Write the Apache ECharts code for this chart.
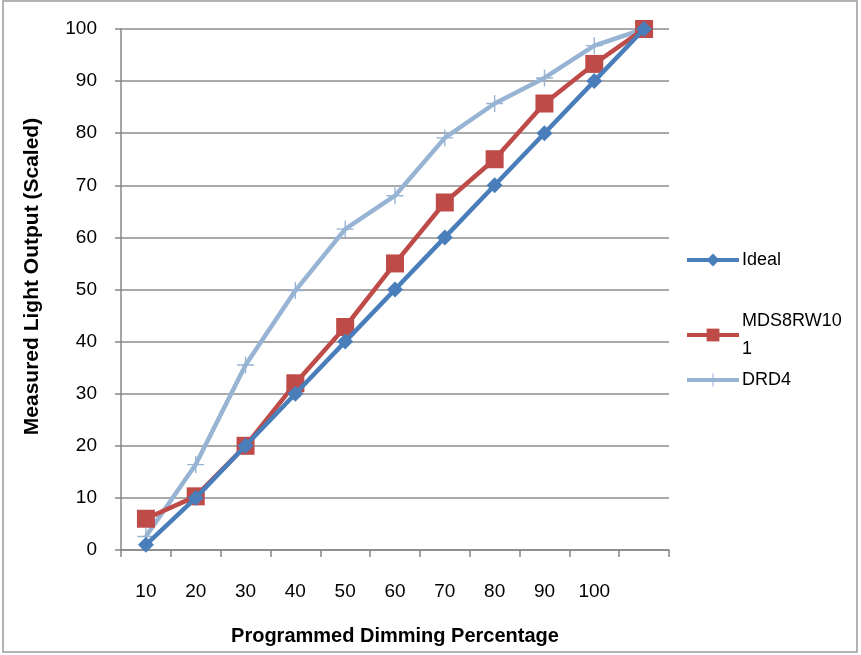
<!DOCTYPE html>
<html><head><meta charset="utf-8">
<script src="https://cdn.jsdelivr.net/npm/echarts@6/dist/echarts.min.js"></script>
<style>html,body{margin:0;padding:0;background:#fff}#c{width:861px;height:655px}</style>
</head><body><div id="c"></div>
<script>
var categories = ['10','20','30','40','50','60','70','80','90','100',''];
var ideal = [1,10,20,30,40,50,60,70,80,90,100];
var mds = [6,10.3,20,32,42.8,55,66.7,75,85.7,93.3,100];
var drd4 = [2.6,16.4,35.5,49.8,61.6,68,79.1,85.7,90.6,96.8,100];
var yTicks = {min:0,max:100,interval:10};

var plus = 'path://M9.2,0 L10.8,0 L10.8,9.2 L20,9.2 L20,10.8 L10.8,10.8 L10.8,20 L9.2,20 L9.2,10.8 L0,10.8 L0,9.2 L9.2,9.2 Z';
var font = 'Liberation Sans';
var legText = {fontFamily:font,fontSize:18,color:'#000',padding:[0,0,0,-2]};
var chart = echarts.init(document.getElementById('c'));
chart.setOption({
  animation:false,
  backgroundColor:'#fff',
  graphic:[{type:'rect',shape:{x:3,y:1,width:854,height:651},style:{fill:'none',stroke:'#9a9a9a',lineWidth:1.5},silent:true}],
  grid:{left:121,right:192,top:29,bottom:105,containLabel:false,outerBoundsMode:'none'},
  legend:[
    {data:['Ideal'],left:680,top:246,itemWidth:52,itemHeight:16,lineStyle:{width:4},textStyle:legText},
    {data:['MDS8RW101'],left:680,top:305,itemWidth:52,itemHeight:16,lineStyle:{width:4},formatter:function(){return 'MDS8RW10\n1';},
      textStyle:{fontFamily:font,fontSize:18,color:'#000',lineHeight:28,verticalAlign:'top',padding:[-6,0,0,-2]}},
    {data:['DRD4'],left:680,top:366,itemWidth:52,itemHeight:16,lineStyle:{width:4},textStyle:legText}
  ],
  xAxis:{type:'category',data:categories,boundaryGap:true,
    name:'Programmed Dimming Percentage',nameLocation:'middle',nameGap:76,
    nameTextStyle:{fontFamily:font,fontSize:20,fontWeight:'bold',color:'#000'},
    axisLine:{lineStyle:{color:'#868686',width:1.5}},
    axisTick:{show:true,length:7,interval:0,lineStyle:{color:'#868686',width:1.5}},
    axisLabel:{interval:0,margin:32,fontFamily:font,fontSize:19,color:'#000'}},
  yAxis:{type:'value',min:yTicks.min,max:yTicks.max,interval:yTicks.interval,
    name:'Measured Light Output (Scaled)',nameLocation:'middle',nameGap:78,
    nameTextStyle:{fontFamily:font,fontSize:21,fontWeight:'bold',color:'#000',padding:[0,0,0,26]},
    axisLine:{show:true,lineStyle:{color:'#868686',width:1.5}},
    axisTick:{show:true,length:6,lineStyle:{color:'#868686',width:1.5}},
    axisLabel:{margin:24,fontFamily:font,fontSize:19,color:'#000'},
    splitLine:{lineStyle:{color:'#8c8c8c',width:1.5}}},
  series:[
    {name:'Ideal',type:'line',data:ideal,symbol:'diamond',symbolSize:16,
      lineStyle:{color:'#4A7EBB',width:4.5},itemStyle:{color:'#4A7EBB'},z:4},
    {name:'MDS8RW101',type:'line',data:mds,symbol:'rect',symbolSize:18,
      lineStyle:{color:'#BE4B48',width:4.5},itemStyle:{color:'#BE4B48'},z:3},
    {name:'DRD4',type:'line',data:drd4,symbol:plus,symbolSize:17,
      lineStyle:{color:'#98B4D4',width:4.5},itemStyle:{color:'#98B4D4'},z:2}
  ]
});
</script></body></html>
